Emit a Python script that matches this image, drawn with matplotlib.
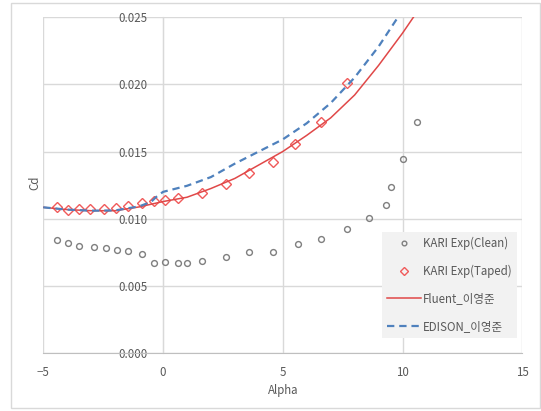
import matplotlib.pyplot as plt
from matplotlib.patches import Rectangle

plt.rcParams['font.family'] = ['Noto Sans CJK KR', 'DejaVu Sans']

alpha_clean = [-4.44, -3.96, -3.49, -2.9, -2.4, -1.94, -1.48, -0.87, -0.39, 0.1, 0.64, 1.01,
               1.61, 2.63, 3.6, 4.6, 5.65, 6.61, 7.7, 8.61, 9.33, 9.52, 10.0, 10.6]
cd_clean = [0.00841, 0.00821, 0.00801, 0.00793, 0.00786, 0.00771, 0.00761, 0.00741, 0.00674,
            0.00679, 0.00674, 0.00674, 0.00687, 0.00714, 0.00754, 0.00754, 0.00811, 0.00848,
            0.00927, 0.01009, 0.01101, 0.01237, 0.01443, 0.01719]

alpha_taped = [-4.44, -3.96, -3.51, -3.06, -2.45, -1.98, -1.48, -0.87, -0.39, 0.08, 0.64,
               1.61, 2.63, 3.6, 4.6, 5.52, 6.61, 7.69]
cd_taped = [0.01091, 0.01064, 0.01071, 0.01074, 0.01071, 0.01081, 0.01096, 0.01116, 0.0113,
            0.01138, 0.01156, 0.01195, 0.0126, 0.01342, 0.01421, 0.01557, 0.01719, 0.02009]

# simulations
alpha_fluent = [-5, -4, -3, -2, -1, 0, 1, 2, 3, 4, 5, 6, 7, 8, 9, 10, 10.5]
cd_fluent = [0.01085, 0.01068, 0.01060, 0.01060, 0.01088, 0.01128, 0.01160, 0.01225, 0.01300,
             0.01400, 0.01500, 0.01620, 0.01750, 0.01920, 0.02140, 0.02380, 0.02510]

alpha_edison = [-5, -4, -3, -2, -1, -0.5, -0.3, 0, 1, 2, 3, 4, 5, 6, 7, 8, 9, 10]
cd_edison = [0.01085, 0.01068, 0.01060, 0.01062, 0.01092, 0.01125, 0.01160, 0.01200, 0.01245,
             0.01310, 0.01410, 0.01500, 0.01590, 0.01710, 0.01860, 0.02050, 0.02280, 0.02550]

xticks = [-5, 0, 5, 10, 15]
yticks = [0.0, 0.005, 0.010, 0.015, 0.020, 0.025]

txt = '#595959'
grid = '#D9D9D9'
fs = 8.3

fig = plt.figure(figsize=(5.41, 4.11), dpi=100)
fig.patches.append(Rectangle((11 / 541, 3 / 411), 529 / 541, 405 / 411, transform=fig.transFigure,
                             fill=False, edgecolor='#D9D9D9', linewidth=1))
ax = fig.add_axes([0.080, 0.1404, 0.8854, 0.8183])

ax.plot(alpha_clean, cd_clean, 'o', ms=4.2, mfc='none', mec='#7F7F7F', mew=1,
        label='KARI Exp(Clean)', zorder=3)
ax.plot(alpha_taped, cd_taped, 'D', ms=5, mfc='none', mec='#F05A5A', mew=1,
        label='KARI Exp(Taped)', zorder=3)
ax.plot(alpha_fluent, cd_fluent, '-', color='#E04848', lw=1.1, label='Fluent_이영준', zorder=4)
ax.plot(alpha_edison, cd_edison, '--', color='#4F81BD', lw=1.6, dashes=(3.3, 2.2),
        label='EDISON_이영준', zorder=4)

ax.set_xlim(-5, 15)
ax.set_ylim(0, 0.025)
ax.set_xticks(xticks)
ax.set_yticks(yticks)
ax.set_yticklabels(['%.3f' % v for v in yticks])
ax.grid(True, color=grid, lw=1)
ax.set_axisbelow(True)

for s in ['top', 'right']:
    ax.spines[s].set_visible(False)
ax.spines['left'].set_position(('data', 0))
ax.spines['left'].set_color(grid)
ax.spines['bottom'].set_color('#BFBFBF')
ax.tick_params(axis='both', length=0, labelsize=fs, colors=txt)
ax.tick_params(axis='y', pad=11)
ax.tick_params(axis='x', pad=9)

fig.text(35 / 541, 1 - 183 / 411, 'Cd', rotation=90, ha='center', va='center', fontsize=fs, color=txt)
fig.text(283 / 541, 1 - 390 / 411, 'Alpha', ha='center', va='center', fontsize=fs, color=txt)

leg = ax.legend(loc='lower right', bbox_to_anchor=(517 / 541, 1 - 338 / 411),
                bbox_transform=fig.transFigure, fontsize=fs, labelcolor=txt, markerscale=0.8,
                handlelength=3.0, handletextpad=0.15, labelspacing=1.25, borderpad=0.45,
                borderaxespad=0, fancybox=False, framealpha=1, facecolor='#F2F2F2',
                edgecolor='none')

fig.savefig('out.png', dpi=100)
